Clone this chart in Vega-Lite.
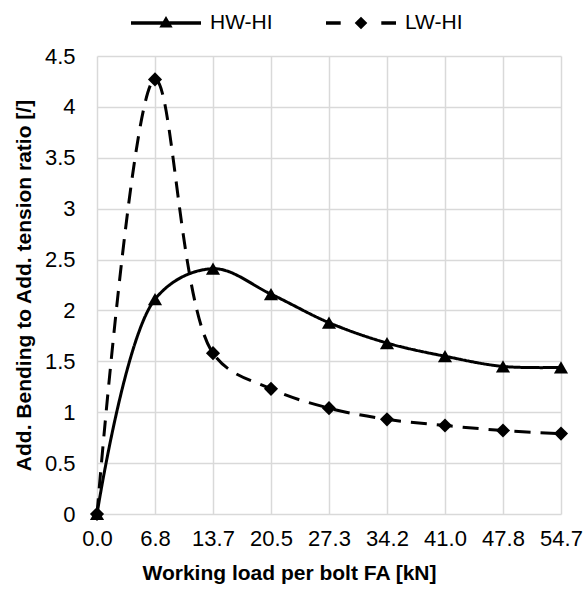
{
  "$schema": "https://vega.github.io/schema/vega-lite/v6.json",
  "autosize": {"type": "none"},
  "padding": {"left": 97, "top": 56, "right": 22, "bottom": 75},
  "width": 464,
  "height": 458,
  "background": "white",
  "config": {
    "view": {"stroke": null},
    "font": "Liberation Sans",
    "axis": {
      "labelFont": "Liberation Sans",
      "titleFont": "Liberation Sans",
      "labelFontSize": 22,
      "titleFontSize": 21,
      "labelColor": "#000000",
      "titleColor": "#000000",
      "titleFontWeight": "bold",
      "gridColor": "#d9d9d9",
      "gridWidth": 1.5,
      "domain": false,
      "ticks": false
    }
  },
  "data": {
    "values": [
      {"x": "0.0", "series": "HW-HI", "y": 0},
      {"x": "6.8", "series": "HW-HI", "y": 2.11},
      {"x": "13.7", "series": "HW-HI", "y": 2.41},
      {"x": "20.5", "series": "HW-HI", "y": 2.16},
      {"x": "27.3", "series": "HW-HI", "y": 1.88},
      {"x": "34.2", "series": "HW-HI", "y": 1.68},
      {"x": "41.0", "series": "HW-HI", "y": 1.55},
      {"x": "47.8", "series": "HW-HI", "y": 1.45},
      {"x": "54.7", "series": "HW-HI", "y": 1.44},
      {"x": "0.0", "series": "LW-HI", "y": 0},
      {"x": "6.8", "series": "LW-HI", "y": 4.27},
      {"x": "13.7", "series": "LW-HI", "y": 1.58},
      {"x": "20.5", "series": "LW-HI", "y": 1.23},
      {"x": "27.3", "series": "LW-HI", "y": 1.04},
      {"x": "34.2", "series": "LW-HI", "y": 0.93},
      {"x": "41.0", "series": "LW-HI", "y": 0.87},
      {"x": "47.8", "series": "LW-HI", "y": 0.82},
      {"x": "54.7", "series": "LW-HI", "y": 0.79}
    ]
  },
  "encoding": {
    "x": {
      "field": "x",
      "type": "ordinal",
      "sort": null,
      "scale": {"type": "point", "padding": 0},
      "axis": {
        "labelAngle": 0,
        "grid": true,
        "labelPadding": 14,
        "title": "Working load per bolt FA [kN]",
        "titlePadding": 13,
        "titleX": 192,
        "titleAlign": "center"
      }
    },
    "y": {
      "field": "y",
      "type": "quantitative",
      "scale": {"domain": [0, 4.5], "nice": false},
      "axis": {
        "values": [0, 0.5, 1, 1.5, 2, 2.5, 3, 3.5, 4, 4.5],
        "format": "~g",
        "grid": true,
        "labelPadding": 22,
        "title": "Add. Bending to Add. tension ratio [/]",
        "titlePadding": 10
      }
    }
  },
  "layer": [
    {
      "mark": {"type": "line", "interpolate": "catmull-rom", "color": "#000000", "strokeWidth": 3},
      "encoding": {
        "strokeDash": {
          "field": "series",
          "type": "nominal",
          "scale": {"domain": ["HW-HI", "LW-HI"], "range": [[1, 0], [16, 10]]},
          "legend": null
        }
      }
    },
    {
      "mark": {"type": "point", "filled": true, "color": "#000000", "opacity": 1, "size": 200},
      "encoding": {
        "shape": {
          "field": "series",
          "type": "nominal",
          "scale": {"domain": ["HW-HI", "LW-HI"], "range": ["triangle-up", "diamond"]},
          "legend": null
        }
      }
    },
    {
      "transform": [{"filter": "datum.y < 0"}],
      "mark": {"type": "point", "filled": true, "color": "#000000", "opacity": 1},
      "encoding": {
        "shape": {
          "field": "series",
          "type": "nominal",
          "scale": {
            "domain": ["HW-HI", "LW-HI"],
            "range": [
              "M-1,-0.05L1,-0.05L1,0.05L-1,0.05ZM0,-0.2L0.19,0.13L-0.19,0.13Z",
              "M-1,-0.05L-0.58,-0.05L-0.58,0.05L-1,0.05ZM0.58,-0.05L1,-0.05L1,0.05L0.58,0.05ZM0,-0.18L0.18,0L0,0.18L-0.18,0Z"
            ]
          },
          "legend": {
            "title": null,
            "orient": "none",
            "direction": "horizontal",
            "legendX": 33,
            "legendY": -69,
            "symbolSize": 4900,
            "symbolFillColor": "#000000",
            "labelFontSize": 21,
            "labelFont": "Liberation Sans",
            "labelColor": "#000000",
            "labelOffset": 8,
            "columnPadding": 50
          }
        }
      }
    }
  ],
  "resolve": {"scale": {"shape": "independent"}}
}
